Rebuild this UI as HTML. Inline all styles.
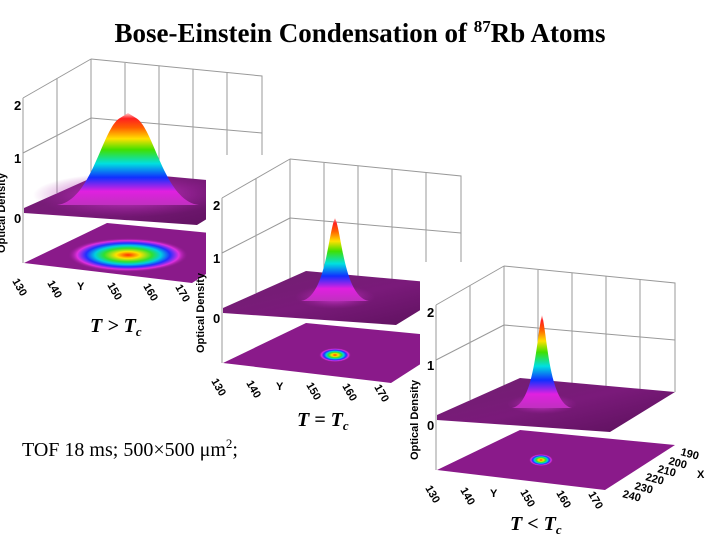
<!DOCTYPE html>
<html><head><meta charset="utf-8"><style>
html,body{margin:0;padding:0;background:#fff;}
svg{display:block;}
</style></head><body>
<svg width="720" height="540" viewBox="0 0 720 540" xmlns="http://www.w3.org/2000/svg">
<defs>
<linearGradient id="rb" x1="0" y1="0" x2="0" y2="1">
<stop offset="0" stop-color="#ffd0d0"/><stop offset="0.06" stop-color="#ff2020"/><stop offset="0.16" stop-color="#ff6000"/>
<stop offset="0.28" stop-color="#ffe000"/><stop offset="0.4" stop-color="#40e000"/>
<stop offset="0.55" stop-color="#00e0e0"/><stop offset="0.7" stop-color="#1030ff"/>
<stop offset="0.85" stop-color="#e020e0"/><stop offset="1" stop-color="#c030c0"/>
</linearGradient>
<radialGradient id="spot">
<stop offset="0" stop-color="#ff3000"/><stop offset="0.2" stop-color="#ffe000"/>
<stop offset="0.4" stop-color="#30e030"/><stop offset="0.55" stop-color="#00d0e0"/>
<stop offset="0.7" stop-color="#2030ff"/><stop offset="0.85" stop-color="#e030e0"/>
<stop offset="1" stop-color="#901890" stop-opacity="0"/>
</radialGradient>
<radialGradient id="glow">
<stop offset="0" stop-color="#e040e0"/><stop offset="1" stop-color="#a020a0" stop-opacity="0"/>
</radialGradient>
<linearGradient id="surf" x1="0" y1="0" x2="1" y2="1">
<stop offset="0" stop-color="#702070"/><stop offset="0.5" stop-color="#7a1a7a"/><stop offset="1" stop-color="#5a105a"/>
</linearGradient>
</defs>

<text x="360" y="42" text-anchor="middle" font-family="Liberation Serif, serif" font-weight="bold" font-size="27">Bose-Einstein Condensation of <tspan font-size="17" dy="-10">87</tspan><tspan dy="10">Rb Atoms</tspan></text>

<g transform="translate(-413,-207)">
<rect x="420" y="262" width="300" height="248" fill="#fff"/>
<g stroke="#999" stroke-width="1" fill="none">
<path d="M504,266 L504,392 M504,266 L675,283 L675,392 M436,305 L504,266 M436,305 L436,470"/>
<path d="M538,270 V385 M572,273 V385 M606,276 V388 M640,280 V390 M470,285 V400 M504,325 L675,340 M436,360 L504,325"/>
</g>
<polygon points="437,415 520,378 675,392 610,432 437,420" fill="url(#surf)"/>
<ellipse cx="541" cy="402" rx="95" ry="22" fill="url(#glow)"/>
<polygon points="437,470 520,430 675,445 605,490" fill="#8a1a8a"/>
<ellipse cx="541" cy="462" rx="60" ry="17" fill="url(#spot)"/>
<path d="M470,412 C505,408 515,335 533,325 L541,320 L549,325 C567,335 577,408 612,412 Z" fill="url(#rb)"/>
<g font-family="Liberation Sans, sans-serif" font-weight="bold" font-size="13">
<text x="427" y="317">2</text><text x="427" y="370">1</text><text x="427" y="430">0</text>
<text transform="translate(418,460) rotate(-90)" font-size="11">Optical Density</text>
</g>
<g font-family="Liberation Sans, sans-serif" font-weight="bold" font-size="11">
<text x="425" y="488" transform="rotate(60 425 488)">130</text>
<text x="460" y="490" transform="rotate(60 460 490)">140</text>
<text x="520" y="492" transform="rotate(60 520 492)">150</text>
<text x="556" y="493" transform="rotate(60 556 493)">160</text>
<text x="588" y="494" transform="rotate(60 588 494)">170</text>
<text x="490" y="497">Y</text>
</g>
</g>

<g transform="translate(-214,-107)">
<rect x="420" y="262" width="300" height="248" fill="#fff"/>
<g stroke="#999" stroke-width="1" fill="none">
<path d="M504,266 L504,392 M504,266 L675,283 L675,392 M436,305 L504,266 M436,305 L436,470"/>
<path d="M538,270 V385 M572,273 V385 M606,276 V388 M640,280 V390 M470,285 V400 M504,325 L675,340 M436,360 L504,325"/>
</g>
<polygon points="437,415 520,378 675,392 610,432 437,420" fill="url(#surf)"/>
<ellipse cx="549" cy="404" rx="40" ry="12" fill="url(#glow)"/>
<polygon points="437,470 520,430 675,445 605,490" fill="#8a1a8a"/>
<ellipse cx="549" cy="462" rx="16" ry="7" fill="url(#spot)"/>
<path d="M515,408 C540,404 542,340 549,325 C556,340 558,404 583,408 Z" fill="url(#rb)"/>
<g font-family="Liberation Sans, sans-serif" font-weight="bold" font-size="13">
<text x="427" y="317">2</text><text x="427" y="370">1</text><text x="427" y="430">0</text>
<text transform="translate(418,460) rotate(-90)" font-size="11">Optical Density</text>
</g>
<g font-family="Liberation Sans, sans-serif" font-weight="bold" font-size="11">
<text x="425" y="488" transform="rotate(60 425 488)">130</text>
<text x="460" y="490" transform="rotate(60 460 490)">140</text>
<text x="520" y="492" transform="rotate(60 520 492)">150</text>
<text x="556" y="493" transform="rotate(60 556 493)">160</text>
<text x="588" y="494" transform="rotate(60 588 494)">170</text>
<text x="490" y="497">Y</text>
</g>
</g>

<g>
<rect x="420" y="262" width="300" height="248" fill="#fff"/>
<g stroke="#999" stroke-width="1" fill="none">
<path d="M504,266 L504,392 M504,266 L675,283 L675,392 M436,305 L504,266 M436,305 L436,470"/>
<path d="M538,270 V385 M572,273 V385 M606,276 V388 M640,280 V390 M470,285 V400 M504,325 L675,340 M436,360 L504,325"/>
</g>
<polygon points="437,415 520,378 675,392 610,432 437,420" fill="url(#surf)"/>
<ellipse cx="542" cy="404" rx="35" ry="10" fill="url(#glow)"/>
<polygon points="437,470 520,430 675,445 605,490" fill="#8a1a8a"/>
<ellipse cx="541" cy="460" rx="12" ry="6" fill="url(#spot)"/>
<path d="M512,408 C535,404 537,332 542,315 C547,332 549,404 572,408 Z" fill="url(#rb)"/>
<g font-family="Liberation Sans, sans-serif" font-weight="bold" font-size="13">
<text x="427" y="317">2</text><text x="427" y="370">1</text><text x="427" y="430">0</text>
<text transform="translate(418,460) rotate(-90)" font-size="11">Optical Density</text>
</g>
<g font-family="Liberation Sans, sans-serif" font-weight="bold" font-size="11">
<text x="425" y="488" transform="rotate(60 425 488)">130</text>
<text x="460" y="490" transform="rotate(60 460 490)">140</text>
<text x="520" y="492" transform="rotate(60 520 492)">150</text>
<text x="556" y="493" transform="rotate(60 556 493)">160</text>
<text x="588" y="494" transform="rotate(60 588 494)">170</text>
<text x="490" y="497">Y</text>
<text x="680" y="455" transform="rotate(15 680 455)">190</text>
<text x="668" y="464" transform="rotate(15 668 464)">200</text>
<text x="657" y="472" transform="rotate(15 657 472)">210</text>
<text x="645" y="480" transform="rotate(15 645 480)">220</text>
<text x="634" y="489" transform="rotate(15 634 489)">230</text>
<text x="622" y="497" transform="rotate(15 622 497)">240</text>
<text x="697" y="478">X</text>
</g>
</g>

<g font-family="Liberation Serif, serif" font-size="20" font-weight="bold" font-style="italic">
<text x="90" y="332">T &gt; T<tspan font-size="13" dy="4">c</tspan></text>
<text x="297" y="426">T = T<tspan font-size="13" dy="4">c</tspan></text>
<text x="510" y="530">T &lt; T<tspan font-size="13" dy="4">c</tspan></text>
</g>
<text x="22" y="456" font-family="Liberation Serif, serif" font-size="20">TOF 18 ms; 500×500 μm<tspan font-size="13" dy="-8">2</tspan><tspan dy="8">;</tspan></text>
</svg>
</body></html>
